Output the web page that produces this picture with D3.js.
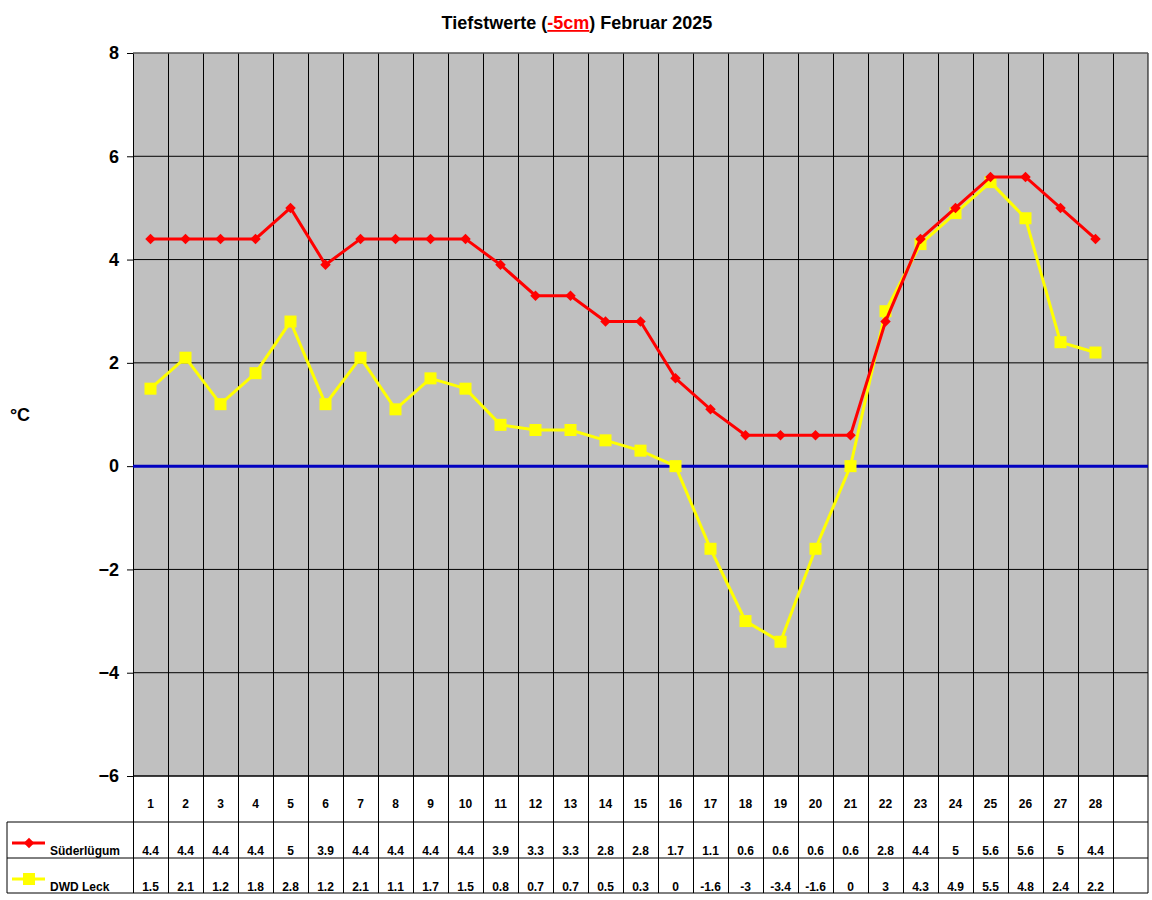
<!DOCTYPE html>
<html><head><meta charset="utf-8">
<script src="https://cdn.jsdelivr.net/npm/d3@7"></script>
<style>body{margin:0;background:#fff}text{font-family:Arial,"Liberation Sans",sans-serif;font-weight:bold}</style>
</head><body><svg width="1152" height="900"></svg>
<script>
var days = d3.range(1, 29);
var suederluegum = [4.4,4.4,4.4,4.4,5,3.9,4.4,4.4,4.4,4.4,3.9,3.3,3.3,2.8,2.8,1.7,1.1,0.6,0.6,0.6,0.6,2.8,4.4,5,5.6,5.6,5,4.4];
var dwdLeck = [1.5,2.1,1.2,1.8,2.8,1.2,2.1,1.1,1.7,1.5,0.8,0.7,0.7,0.5,0.3,0,-1.6,-3,-3.4,-1.6,0,3,4.3,4.9,5.5,4.8,2.4,2.2];
var yTicks = [-6,-4,-2,0,2,4,6,8];

var svg = d3.select("svg");
var pLeft = 133, pRight = 1148, pTop = 53, pBottom = 776;

var x = d3.scaleBand().domain(d3.range(1, 30)).range([pLeft, pRight]);
var y = d3.scaleLinear().domain([-6, 8]).range([pBottom, pTop]);

// plot background
svg.append("rect").attr("x", pLeft).attr("y", pTop).attr("width", pRight - pLeft).attr("height", pBottom - pTop)
    .attr("fill", "#c0c0c0");

// horizontal grid
svg.selectAll(".hg").data(yTicks).enter().append("line")
    .attr("x1", pLeft).attr("x2", pRight).attr("y1", y).attr("y2", y)
    .attr("stroke", "#000").attr("stroke-width", 1);

// vertical grid through the table
var rowY = [776, 822, 858, 893];
svg.selectAll(".vg").data(d3.range(1, 30)).enter().append("line")
    .attr("x1", function (d) { return x(d) + 0.5 }).attr("x2", function (d) { return x(d) + 0.5 })
    .attr("y1", pTop).attr("y2", rowY[3])
    .attr("stroke", "#000");
svg.append("line").attr("x1", pRight).attr("x2", pRight).attr("y1", pTop).attr("y2", rowY[3]).attr("stroke", "#000");
svg.append("line").attr("x1", pLeft).attr("x2", pRight).attr("y1", pTop).attr("y2", pTop).attr("stroke", "#808080");

// table rows
svg.append("line").attr("x1", pLeft).attr("x2", pRight).attr("y1", rowY[0]).attr("y2", rowY[0]).attr("stroke", "#000");
[rowY[1], rowY[2], rowY[3]].forEach(function (ry) {
    svg.append("line").attr("x1", 7).attr("x2", pRight).attr("y1", ry).attr("y2", ry).attr("stroke", "#000");
});
svg.append("line").attr("x1", 7).attr("x2", 7).attr("y1", rowY[1]).attr("y2", rowY[3]).attr("stroke", "#000");

// y axis
var yAxis = svg.append("g").attr("transform", "translate(" + pLeft + ",0)")
    .call(d3.axisLeft(y).tickValues(yTicks).tickSize(6).tickPadding(8).tickFormat(d3.format("d")));
yAxis.select(".domain").remove();
yAxis.selectAll("line").attr("stroke", "#000");
yAxis.selectAll("text").attr("font-size", 18).attr("fill", "#000").attr("font-family", "Arial,'Liberation Sans',sans-serif");

svg.append("text").attr("x", 20).attr("y", 421).attr("text-anchor", "middle").attr("font-size", 18).text("°C");

// zero line
svg.append("line").attr("x1", pLeft).attr("x2", pRight).attr("y1", y(0)).attr("y2", y(0))
    .attr("stroke", "#0000c0").attr("stroke-width", 3);

var cx = function (d, i) { return x(days[i]) + x.bandwidth() / 2 };
var line = d3.line().x(function (d, i) { return cx(d, i) }).y(function (d) { return y(d) });

svg.append("path").datum(dwdLeck).attr("d", line).attr("fill", "none").attr("stroke", "#ffff00").attr("stroke-width", 3);
svg.selectAll(".sq").data(dwdLeck).enter().append("rect")
    .attr("x", function (d, i) { return cx(d, i) - 6 }).attr("y", function (d) { return y(d) - 6 })
    .attr("width", 12).attr("height", 12).attr("fill", "#ffff00");

svg.append("path").datum(suederluegum).attr("d", line).attr("fill", "none").attr("stroke", "#ff0000").attr("stroke-width", 3);
svg.selectAll(".dm").data(suederluegum).enter().append("path")
    .attr("d", d3.symbol(d3.symbolDiamond2, 70))
    .attr("transform", function (d, i) { return "translate(" + cx(d, i) + "," + y(d) + ")" })
    .attr("fill", "#ff0000");

// table text
svg.selectAll(".day").data(days).enter().append("text")
    .attr("x", function (d) { return x(d) + x.bandwidth() / 2 }).attr("y", 808)
    .attr("text-anchor", "middle").attr("font-size", 12).text(function (d) { return d });
function row(vals, ty) {
    svg.selectAll(null).data(vals).enter().append("text")
        .attr("x", function (d, i) { return cx(d, i) }).attr("y", ty)
        .attr("text-anchor", "middle").attr("font-size", 12).text(function (d) { return d });
}
row(suederluegum, 855);
row(dwdLeck, 891);

// legend keys
svg.append("line").attr("x1", 12).attr("x2", 45).attr("y1", 843).attr("y2", 843).attr("stroke", "#ff0000").attr("stroke-width", 3);
svg.append("path").attr("d", d3.symbol(d3.symbolDiamond2, 70)).attr("transform", "translate(29,843)").attr("fill", "#ff0000");
svg.append("text").attr("x", 50).attr("y", 855).attr("font-size", 12).text("Süderlügum");
svg.append("line").attr("x1", 12).attr("x2", 45).attr("y1", 879).attr("y2", 879).attr("stroke", "#ffff00").attr("stroke-width", 3);
svg.append("rect").attr("x", 23).attr("y", 873).attr("width", 12).attr("height", 12).attr("fill", "#ffff00");
svg.append("text").attr("x", 50).attr("y", 891).attr("font-size", 12).text("DWD Leck");

// title
var t = svg.append("text").attr("x", 577).attr("y", 29).attr("text-anchor", "middle").attr("font-size", 18);
t.append("tspan").text("Tiefstwerte (");
t.append("tspan").attr("fill", "#ff0000").attr("text-decoration", "underline").text("-5cm");
t.append("tspan").text(") Februar 2025");
</script></body></html>
